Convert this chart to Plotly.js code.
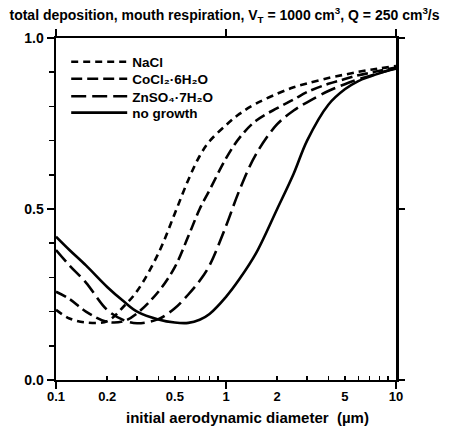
<!DOCTYPE html>
<html>
<head>
<meta charset="utf-8">
<script src="https://cdn.plot.ly/plotly-3.0.1.min.js"></script>
<style>html,body{margin:0;padding:0;background:#fff;}</style>
</head>
<body>
<div id="chart" style="width:449px;height:428px;"></div>
<script>
// Initial aerodynamic diameter (µm)
var diameter = [0.1, 0.12, 0.15, 0.2, 0.25, 0.3, 0.4, 0.5, 0.6, 0.7, 0.8, 1.0, 1.2, 1.5, 2, 2.5, 3, 4, 5, 6, 7, 8, 10];
// Total deposition fraction
var nacl =      [0.205, 0.180, 0.168, 0.172, 0.215, 0.260, 0.370, 0.487, 0.585, 0.655, 0.698, 0.745, 0.778, 0.808, 0.837, 0.856, 0.867, 0.883, 0.893, 0.901, 0.907, 0.911, 0.918];
var cocl2 =     [0.258, 0.237, 0.200, 0.170, 0.172, 0.195, 0.258, 0.330, 0.420, 0.500, 0.555, 0.648, 0.708, 0.758, 0.795, 0.820, 0.842, 0.866, 0.880, 0.891, 0.898, 0.904, 0.914];
var znso4 =     [0.380, 0.335, 0.285, 0.205, 0.175, 0.166, 0.178, 0.210, 0.250, 0.290, 0.335, 0.450, 0.555, 0.660, 0.748, 0.788, 0.812, 0.845, 0.865, 0.879, 0.889, 0.898, 0.912];
var noGrowth =  [0.419, 0.380, 0.335, 0.272, 0.230, 0.200, 0.177, 0.168, 0.167, 0.176, 0.193, 0.243, 0.295, 0.370, 0.500, 0.603, 0.700, 0.805, 0.850, 0.874, 0.887, 0.897, 0.910];

var seriesNames = ["NaCl", "CoCl\u2082·6H\u2082O", "ZnSO\u2084·7H\u2082O", "no growth"];
var seriesValues = [nacl, cocl2, znso4, noGrowth];
var seriesDash = ["7px,5px", "11px,5px", "15px,6px", "solid"];
var legendIds = ["legend", "legend2", "legend3", "legend4"];
var legendY = [0.930, 0.880, 0.829, 0.781];

var xLabelVals = [0.1, 0.2, 0.5, 1, 2, 5, 10];
var xLabelText = ["0.1", "0.2", "0.5", "1", "2", "5", "10"];
var xMinorVals = [0.2, 0.3, 0.4, 0.5, 0.6, 0.7, 0.8, 0.9, 2, 3, 4, 5, 6, 7, 8, 9];
var xMajorVals = [0.1, 1, 10];
var yLabelVals = [0, 0.5, 1];
var yLabelText = ["0.0", "0.5", "1.0"];
var yMinorVals = [0.1, 0.2, 0.3, 0.4, 0.6, 0.7, 0.8, 0.9];

var FONT = "Liberation Sans, Arial, sans-serif";

var traces = seriesValues.map(function (vals, i) {
  return {
    x: diameter, y: vals, name: seriesNames[i], type: "scatter", mode: "lines",
    line: {color: "#000", width: 2.6, dash: seriesDash[i], shape: "spline", smoothing: 1},
    xaxis: "x", yaxis: "y", hoverinfo: "skip", legend: legendIds[i]
  };
});
// empty traces so the overlaid label / frame axes get drawn
traces.push({x: [], y: [], xaxis: "x2", yaxis: "y", type: "scatter", mode: "lines", showlegend: false, hoverinfo: "skip"});
traces.push({x: [], y: [], xaxis: "x3", yaxis: "y2", type: "scatter", mode: "lines", showlegend: false, hoverinfo: "skip"});

var layout = {
  width: 449, height: 428,
  margin: {l: 56, r: 53, t: 38, b: 48},
  paper_bgcolor: "#fff", plot_bgcolor: "#fff",
  font: {family: FONT, color: "#000", size: 12, weight: "bold"},
  title: {
    text: "<b>total deposition, mouth respiration, V<sub>T</sub> = 1000 cm<sup>3</sup>, Q = 250 cm<sup>3</sup>/s</b>",
    font: {family: FONT, size: 14, color: "#000"},
    x: 0.5, xanchor: "center", y: 0.965, yanchor: "middle"
  },
  showlegend: true,
  xaxis: {
    type: "log", range: [-1, 1], showgrid: false, zeroline: false,
    showline: true, linecolor: "#000", linewidth: 2,
    tickmode: "array", tickvals: xMajorVals, ticks: "outside", ticklen: 7, tickwidth: 2, tickcolor: "#000",
    showticklabels: false,
    minor: {tickmode: "array", tickvals: xMinorVals, ticks: "inside", ticklen: 4, tickwidth: 1.5, tickcolor: "#000", showgrid: false}
  },
  xaxis2: {
    type: "log", range: [-1, 1], overlaying: "x", side: "bottom", anchor: "y",
    showgrid: false, zeroline: false, showline: false, ticks: "",
    tickmode: "array", tickvals: xLabelVals, ticktext: xLabelText,
    tickfont: {family: FONT, size: 13, color: "#000", weight: "bold"},
    ticklabelstandoff: 7
  },
  xaxis3: {
    type: "log", range: [-1, 1], overlaying: "x", side: "top", anchor: "y2",
    showgrid: false, zeroline: false, showline: true, linecolor: "#000", linewidth: 2,
    tickmode: "array", tickvals: xMajorVals, ticks: "outside", ticklen: 7, tickwidth: 2, tickcolor: "#000",
    showticklabels: false
  },
  yaxis: {
    range: [0, 1], showgrid: false, zeroline: false,
    showline: true, linecolor: "#000", linewidth: 2.5,
    tickmode: "array", tickvals: yLabelVals, ticktext: yLabelText,
    ticks: "outside", ticklen: 7, tickwidth: 2, tickcolor: "#000",
    tickfont: {family: FONT, size: 14, color: "#000", weight: "bold"},
    minor: {tickmode: "array", tickvals: yMinorVals, ticks: "outside", ticklen: 5, tickwidth: 1.5, tickcolor: "#000", showgrid: false}
  },
  yaxis2: {
    range: [0, 1], overlaying: "y", side: "right", anchor: "x3",
    showgrid: false, zeroline: false, showline: true, linecolor: "#000", linewidth: 2.5,
    tickmode: "array", tickvals: yLabelVals, ticks: "outside", ticklen: 6, tickwidth: 2, tickcolor: "#000",
    showticklabels: false
  },
  annotations: [{
    text: "<b>initial aerodynamic diameter  (µm)</b>",
    xref: "paper", yref: "paper", x: 0.562, y: -0.11, xanchor: "center", yanchor: "middle",
    showarrow: false, font: {family: FONT, size: 15, color: "#000"}
  }]
};
legendIds.forEach(function (id, i) {
  layout[id] = {
    x: 0.03, y: legendY[i], xanchor: "left", yanchor: "middle",
    bgcolor: "rgba(0,0,0,0)", borderwidth: 0,
    font: {family: FONT, size: 13.5, color: "#000", weight: "bold"},
    itemwidth: 56
  };
});

Plotly.newPlot("chart", traces, layout, {displayModeBar: false, staticPlot: true});
</script>
</body>
</html>
